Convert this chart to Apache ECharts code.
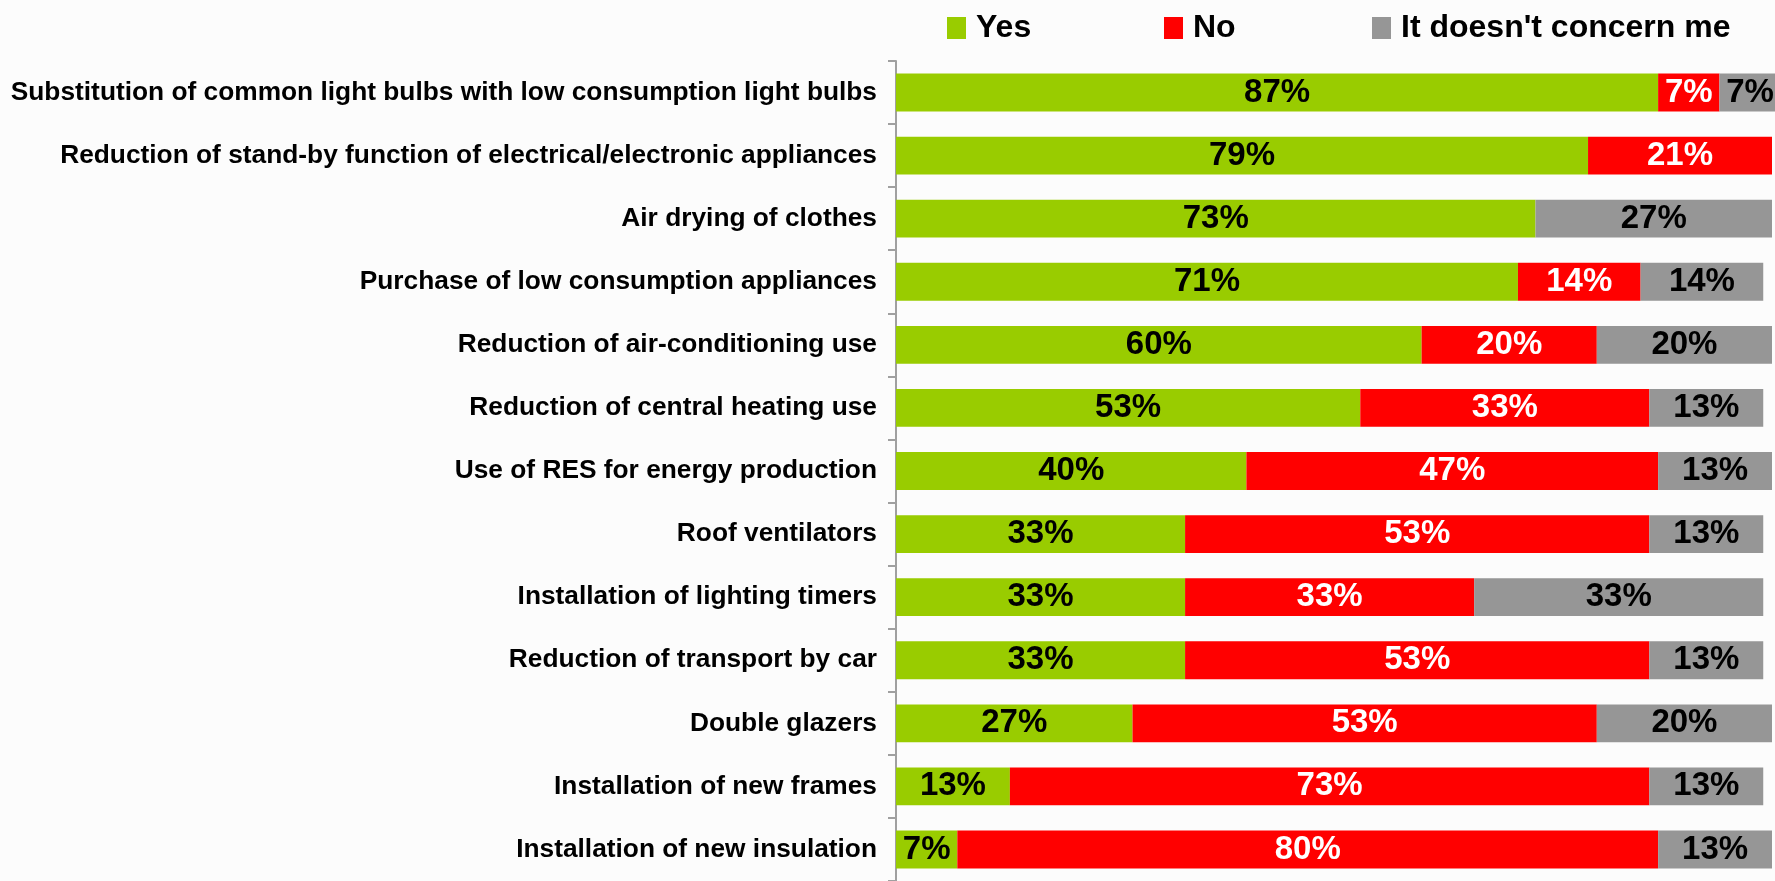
<!DOCTYPE html>
<html>
<head>
<meta charset="utf-8">
<script src="https://cdn.jsdelivr.net/npm/echarts@6/dist/echarts.min.js"></script>
<style>
  html, body { margin: 0; padding: 0; background: #fcfcfc; }
  #chart { width: 1775px; height: 881px; }
</style>
</head>
<body>
<div id="chart"></div>
<script>
// categories, top to bottom
var categories = [
  "Substitution of common light bulbs with low consumption light bulbs",
  "Reduction of stand-by function of electrical/electronic appliances",
  "Air drying of clothes",
  "Purchase of low consumption appliances",
  "Reduction of air-conditioning use",
  "Reduction of central heating use",
  "Use of RES for energy production",
  "Roof ventilators",
  "Installation of lighting timers",
  "Reduction of transport by car",
  "Double glazers",
  "Installation of new frames",
  "Installation of new insulation"
];
var yesValues = [87, 79, 73, 71, 60, 53, 40, 33, 33, 33, 27, 13, 7];
var noValues = [7, 21, 0, 14, 20, 33, 47, 53, 33, 53, 53, 73, 80];
var notConcernValues = [7, 0, 27, 14, 20, 13, 13, 13, 33, 13, 20, 13, 13];

var seriesNames = ["Yes", "No", "It doesn't concern me"];
var seriesColors = ["#99cc00", "#ff0000", "#969696"];
var labelColors = ["#000", "#fff", "#000"];
var legendLeft = [947, 1164, 1372];

var fontFamily = '"Liberation Sans", Arial, sans-serif';

var myChart = echarts.init(document.getElementById("chart"));

var seriesData = [yesValues, noValues, notConcernValues];
var series = [];
for (var i = 0; i < seriesNames.length; i++) {
  series.push({
    name: seriesNames[i],
    type: "bar",
    stack: "total",
    data: seriesData[i],
    barWidth: "60%",
    clip: false,
    itemStyle: { color: seriesColors[i] },
    label: {
      show: true,
      position: "inside",
      color: labelColors[i],
      fontFamily: fontFamily,
      fontWeight: "bold",
      fontSize: 33,
      formatter: function (p) {
        return p.value ? p.value + "%" : "";
      }
    }
  });
}

// one legend per series so each item sits where it does in the original
var legends = [];
for (var j = 0; j < seriesNames.length; j++) {
  legends.push({
    data: [seriesNames[j]],
    left: legendLeft[j],
    top: 12,
    padding: 0,
    icon: "rect",
    itemWidth: 19,
    itemHeight: 22,
    itemGap: 0,
    textStyle: {
      color: "#000",
      fontFamily: fontFamily,
      fontWeight: "bold",
      fontSize: 32,
      padding: [0, 0, 0, 5]
    }
  });
}

var option = {
  backgroundColor: "#fcfcfc",
  animation: false,
  legend: legends,
  grid: {
    left: 896,
    right: 3,
    top: 61,
    height: 824
  },
  xAxis: {
    type: "value",
    min: 0,
    max: 100,
    show: false
  },
  yAxis: {
    type: "category",
    data: categories,
    inverse: true,
    axisLine: { show: true, lineStyle: { color: "#a0a0a0", width: 2 } },
    axisTick: { show: true, length: 8, lineStyle: { color: "#a0a0a0", width: 2 } },
    axisLabel: {
      margin: 19,
      color: "#000",
      fontFamily: fontFamily,
      fontWeight: "bold",
      fontSize: 26.3
    }
  },
  series: series
};

option && myChart.setOption(option);
</script>
</body>
</html>
